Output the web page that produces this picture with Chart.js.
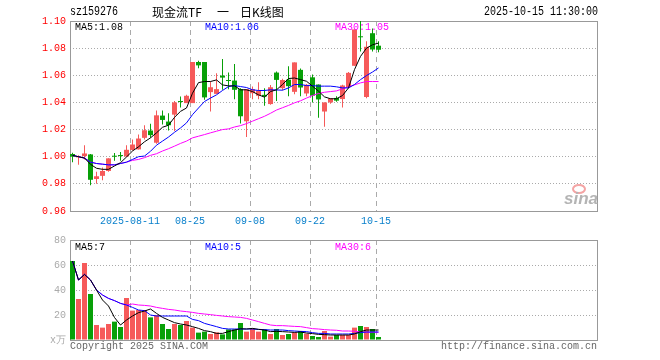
<!DOCTYPE html>
<html>
<head>
<meta charset="utf-8">
<script src="https://cdn.jsdelivr.net/npm/chart.js@4.4.1/dist/chart.umd.min.js"></script>
<style>
  html, body { margin: 0; padding: 0; background: #fff; }
  #wrap { position: relative; width: 660px; height: 360px; }
  canvas { position: absolute; left: 0; }
  #kline { top: 0; }
  #vol { top: 230px; }
</style>
</head>
<body>
<div id="wrap">
  <canvas id="kline" width="660" height="230"></canvas>
  <canvas id="vol" width="660" height="130"></canvas>
</div>
<script>
// trading days shown (MM-DD, 2025)
const dates = ['07-28','07-29','07-30','07-31','08-01','08-04','08-05','08-06','08-07','08-08',
  '08-11','08-12','08-13','08-14','08-15','08-18','08-19','08-20','08-21','08-22',
  '08-25','08-26','08-27','08-28','08-29','09-01','09-02','09-03','09-04','09-05',
  '09-08','09-09','09-10','09-11','09-12','09-15','09-16','09-17','09-18','09-19',
  '09-22','09-23','09-24','09-25','09-26','09-29','09-30','10-09','10-10','10-13',
  '10-14','10-15'];

const openP = [1.002,0.9995,1.0005,1.0017,0.9836,0.9859,0.9895,1.0003,1.0008,1.0002,
  1.005,1.0054,1.0139,1.0193,1.0103,1.0303,1.0259,1.031,1.0408,1.0395,
  1.0395,1.0698,1.0698,1.0476,1.0463,1.0598,1.0563,1.0561,1.0498,1.0261,
  1.0468,1.0449,1.0456,1.0388,1.062,1.0505,1.0568,1.0478,1.064,1.0466,
  1.0585,1.0532,1.0333,1.040,1.0433,1.0425,1.0513,1.067,1.0885,1.044,
  1.091,1.0818];
const highP = [1.003,1.001,1.0085,1.002,0.989,0.992,0.9988,1.0027,1.0034,1.0085,
  1.0127,1.0163,1.0232,1.0242,1.034,1.034,1.032,1.041,1.0444,1.0456,
  1.0698,1.0707,1.0698,1.0554,1.0615,1.072,1.062,1.0683,1.0505,1.0498,
  1.0517,1.0549,1.0505,1.0529,1.0627,1.0575,1.0666,1.0695,1.065,1.0535,
  1.0605,1.0532,1.040,1.043,1.0445,1.053,1.0625,1.0938,1.100,1.085,
  1.0945,1.085];
const lowP = [0.996,0.994,0.998,0.979,0.980,0.9827,0.989,0.997,0.997,0.9998,
  1.0046,1.0054,1.0127,1.0139,1.0095,1.0237,1.0193,1.019,1.0363,1.0395,
  1.0395,1.0651,1.042,1.0334,1.0463,1.0493,1.0498,1.0424,1.0244,1.0146,
  1.0424,1.0424,1.0376,1.0383,1.041,1.049,1.0446,1.046,1.0445,1.0445,
  1.040,1.0288,1.022,1.039,1.0405,1.0363,1.051,1.067,1.0775,1.043,
  1.0775,1.077];
const closeP = [1.000,1.000,1.0024,0.983,0.9856,0.9895,0.9988,1.000,1.0005,1.0051,
  1.009,1.0134,1.0195,1.0159,1.0305,1.0271,1.0232,1.040,1.0403,1.0449,
  1.0698,1.0673,1.0437,1.0512,1.0498,1.0583,1.0558,1.0493,1.0298,1.0498,
  1.0498,1.0485,1.0444,1.0512,1.0566,1.0565,1.052,1.0695,1.051,1.053,
  1.045,1.0422,1.040,1.043,1.0413,1.0525,1.0618,1.0938,1.088,1.081,
  1.079,1.0788];

const ma5 = [1.001,1.000,0.999,0.9944,0.9915,0.9907,0.9907,0.9932,0.9956,0.9998,
  1.0042,1.0073,1.011,1.0139,1.0176,1.0217,1.0232,1.029,1.0334,1.0359,
  1.0468,1.0546,1.0554,1.0554,1.0566,1.0529,1.0522,1.0522,1.0493,1.0493,
  1.048,1.0456,1.0439,1.048,1.0493,1.0532,1.0576,1.058,1.0568,1.0556,
  1.052,1.0483,1.0441,1.0427,1.0427,1.0451,1.0507,1.0642,1.0739,1.08,
  1.0825,1.0837];
const ma10 = [1.001,1.000,0.999,0.996,0.995,0.9945,0.994,0.994,0.995,0.996,
  0.998,1.000,1.0005,1.004,1.0085,1.0115,1.0145,1.018,1.0212,1.0249,
  1.031,1.0359,1.0407,1.0432,1.0456,1.0488,1.0517,1.0524,1.0517,1.051,
  1.0493,1.0488,1.0488,1.0493,1.0492,1.049,1.0507,1.0532,1.0532,1.0524,
  1.0524,1.052,1.052,1.052,1.0515,1.0507,1.0507,1.0532,1.0568,1.0598,
  1.0624,1.0654];
const ma30 = [1.001,1.000,0.999,0.996,0.995,0.9945,0.994,0.994,0.995,0.996,
  0.9973,0.998,0.9993,1.001,1.0022,1.0042,1.0059,1.0078,1.0098,1.0115,
  1.0139,1.0151,1.0163,1.0176,1.0188,1.02,1.0205,1.0219,1.0229,1.0244,
  1.0262,1.028,1.0298,1.032,1.0344,1.0361,1.0378,1.0397,1.0412,1.0432,
  1.0451,1.0466,1.0475,1.048,1.0485,1.05,1.0515,1.0529,1.0544,1.0554,
  1.0554,1.0554];

// volume, 万
const vol = [63.2,32.8,61.6,36.8,12,9.9,12.8,14.7,10.4,33.6,
  23.5,24,24,18.1,20,12.8,8.8,12.8,12,15.2,
  9.9,5.9,6.7,4.8,6.1,4.5,8.5,8.5,13.6,6.7,
  9.3,6.7,8.5,4.8,8.8,4,4.8,6.1,7.2,5.1,
  3.2,2.4,7.2,2.7,4,4,4,9.9,11.2,10.4,
  8.8,2.4];
const vma5 = [63.2,48,52.5,48,40,32,27.2,18,12,16,
  19.2,21.9,23.2,24.8,21.3,18.1,16,13.9,12.8,12,
  10.7,9.3,7.5,6.7,5.3,5.3,6.7,8,9,8.8,
  9.3,8.5,8,6.7,6.9,6.7,6.4,6.1,6.4,5.6,
  5.1,4.5,4.3,4,4,4,4,4.8,6.7,8,
  8,8];
const vma10 = [63.2,48,52.5,48,40,36,33.3,31.5,29.3,28,
  26.1,24,23.5,20,19.2,19.2,19.2,19.2,19.2,19.2,
  16.5,15.5,13.3,12,10.7,9.3,8.8,8.8,8.8,8.8,
  8.8,8.5,8.3,8,8,8,7.5,7.2,6.9,6.7,
  5.9,5.3,5.3,4.8,4.8,4.8,4.8,5.3,5.9,6.4,
  6.4,6.4];
const vma30 = [63.2,48,52.5,48,40,36,33.3,31.5,29.3,28,
  28.8,28,27.7,27.2,26.1,25.3,24.5,24,23.2,22.7,
  22.1,21.3,20.8,20.3,19.7,19.2,18.7,18.4,18.1,17.3,
  16,14.7,13.3,12,11.5,11.5,11.2,10.9,10.7,9.9,
  9.1,8.8,8.3,8,7.8,7.2,7.2,7,6.5,6.2,
  6.2,6.2];

const tickDates = ['08-11','08-25','09-08','09-22','10-15'];
const tickLabels = ['2025-08-11','08-25','09-08','09-22','10-15'];
const volTicks = [0, 20, 40, 60, 80];

const SLOTS = 88;        // the axis has room for 88 days
const OFF = 2.5 / 6;     // bar centre inside its day slot
const RED = '#f65a5a', GREEN = '#08a008';
const MONO = '"Liberation Mono", "DejaVu Sans Mono", monospace';
const CJK = '"Noto Sans CJK SC", sans-serif';

const xPos = dates.map((d, i) => i + OFF);
const tickIdx = tickDates.map(d => dates.indexOf(d));
const colors = dates.map((d, i) => closeP[i] >= openP[i] ? RED : GREEN);

function txt(ctx, s, x, y, color, align, font, maxW) {
  ctx.font = font;
  ctx.fillStyle = color;
  ctx.textAlign = align;
  ctx.textBaseline = 'middle';
  if (maxW) ctx.fillText(s, x, y, maxW); else ctx.fillText(s, x, y);
}

function maLine(label, vals, color) {
  return {
    type: 'line', label: label,
    data: vals.map((v, i) => ({x: xPos[i], y: v})),
    borderColor: color, borderWidth: 1, pointRadius: 0, tension: 0, order: 0
  };
}

function xScale(showLabels) {
  return {
    type: 'linear', min: 0, max: SLOTS, offset: false,
    afterBuildTicks: s => { s.ticks = tickIdx.map(v => ({value: v})); },
    afterFit: s => { s.height = showLabels ? 19 : 20; },
    ticks: {
      display: showLabels, autoSkip: false, maxRotation: 0, padding: 4,
      color: '#0a80cc', font: {family: MONO, size: 10},
      callback: v => tickLabels[tickIdx.indexOf(v)]
    },
    grid: {color: '#aaa', drawTicks: false, offset: false},
    border: {display: false, dash: [5, 4]}
  };
}

// frame round the plot area
const frame = {
  id: 'frame',
  beforeDatasetsDraw(chart) {
    const {ctx, chartArea: a} = chart;
    ctx.save();
    ctx.strokeStyle = '#999';
    ctx.lineWidth = 1;
    ctx.strokeRect(a.left + 0.5, a.top + 0.5, a.right - a.left - 1, a.bottom - a.top);
    ctx.restore();
  }
};

const klineText = {
  id: 'klineText',
  afterDraw(chart) {
    const ctx = chart.ctx;
    ctx.save();
    txt(ctx, 'sz159276', 70, 12, '#000', 'left', '12px ' + MONO, 48);
    txt(ctx, '现金流TF', 152, 12, '#000', 'left', '12px ' + CJK);
    txt(ctx, '一', 217, 12, '#000', 'left', '12px ' + CJK);
    txt(ctx, '日K线图', 240, 12, '#000', 'left', '12px ' + CJK);
    txt(ctx, '2025-10-15 11:30:00', 598, 12, '#000', 'right', '12px ' + MONO, 114);
    txt(ctx, 'MA5:1.08', 75, 27, '#000', 'left', '11px ' + MONO, 48);
    txt(ctx, 'MA10:1.06', 205, 27, '#0000ff', 'left', '11px ' + MONO, 54);
    txt(ctx, 'MA30:1.05', 335, 27, '#ff00ff', 'left', '11px ' + MONO, 54);
    // sina mark
    ctx.strokeStyle = '#f4a4a4';
    ctx.lineWidth = 2;
    ctx.beginPath();
    ctx.ellipse(579, 189, 6, 4, 0, 0, Math.PI * 2);
    ctx.stroke();
    ctx.font = 'italic bold 17px "Liberation Sans", sans-serif';
    ctx.fillStyle = '#b4b4b4';
    ctx.textAlign = 'right';
    ctx.textBaseline = 'alphabetic';
    ctx.fillText('sina', 598, 204);
    ctx.restore();
  }
};

const volText = {
  id: 'volText',
  afterDraw(chart) {
    const ctx = chart.ctx;
    ctx.save();
    txt(ctx, 'MA5:7', 75, 17, '#000', 'left', '11px ' + MONO, 30);
    txt(ctx, 'MA10:5', 205, 17, '#0000ff', 'left', '11px ' + MONO, 36);
    txt(ctx, 'MA30:6', 335, 17, '#ff00ff', 'left', '11px ' + MONO, 36);
    txt(ctx, 'Copyright 2025 SINA.COM', 70, 116, '#666', 'left', '11px ' + MONO, 138);
    txt(ctx, 'http://finance.sina.com.cn', 597, 116, '#666', 'right', '11px ' + MONO, 156);
    ctx.restore();
  }
};

const common = {
  responsive: false,
  animation: false,
  events: [],
  plugins: {legend: {display: false}, tooltip: {enabled: false}}
};

new Chart(document.getElementById('kline'), {
  type: 'bar',
  data: {
    datasets: [
      maLine('MA5', ma5, '#000000'),
      maLine('MA10', ma10, '#0000ff'),
      maLine('MA30', ma30, '#ff00ff'),
      {
        label: 'body',
        data: dates.map((d, i) => ({x: xPos[i], y: [Math.min(openP[i], closeP[i]), Math.max(openP[i], closeP[i])]})),
        backgroundColor: colors, barThickness: 5, minBarLength: 1,
        grouped: false, inflateAmount: 0, order: 1
      },
      {
        label: 'wick',
        data: dates.map((d, i) => ({x: xPos[i], y: [lowP[i], highP[i]]})),
        backgroundColor: colors, barThickness: 1,
        grouped: false, inflateAmount: 0, order: 2
      }
    ]
  },
  options: Object.assign({}, common, {
    layout: {padding: {top: 21, right: 62, left: 0, bottom: 0}},
    scales: {
      x: xScale(true),
      y: {
        type: 'linear', min: 0.96, max: 1.10,
        afterFit: s => { s.width = 70; },
        ticks: {stepSize: 0.02, padding: 4, color: '#ff0000', font: {family: MONO, size: 10},
                callback: v => v.toFixed(2)},
        grid: {color: '#aaa', drawTicks: false},
        border: {display: false, dash: [1, 2]}
      }
    }
  }),
  plugins: [frame, klineText]
});

new Chart(document.getElementById('vol'), {
  type: 'bar',
  data: {
    datasets: [
      maLine('MA5', vma5, '#000000'),
      maLine('MA10', vma10, '#0000ff'),
      maLine('MA30', vma30, '#ff00ff'),
      {
        label: 'vol',
        data: dates.map((d, i) => ({x: xPos[i], y: vol[i]})),
        backgroundColor: colors, barThickness: 5,
        grouped: false, inflateAmount: 0, order: 1
      }
    ]
  },
  options: Object.assign({}, common, {
    layout: {padding: {top: 10, right: 62, left: 0, bottom: 0}},
    scales: {
      x: xScale(false),
      y: {
        type: 'linear', min: 0, max: 80,
        afterBuildTicks: s => { s.ticks = volTicks.map(v => ({value: v})); },
        afterFit: s => { s.width = 70; },
        ticks: {padding: 4, color: '#aaa', font: {family: MONO, size: 10},
                callback: v => v === 0 ? 'x万' : String(v)},
        grid: {color: '#aaa', drawTicks: false},
        border: {display: false, dash: [1, 2]}
      }
    }
  }),
  plugins: [frame, volText]
});
</script>
</body>
</html>
